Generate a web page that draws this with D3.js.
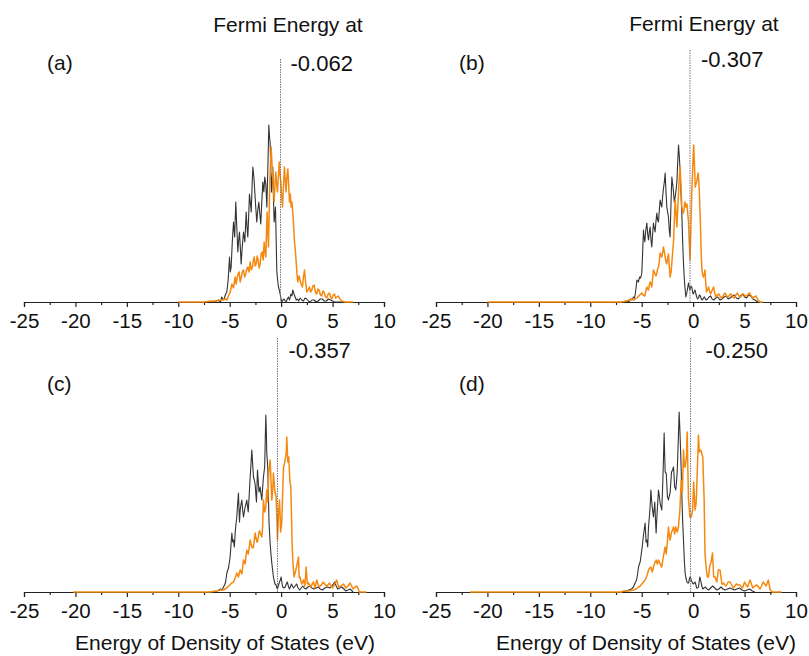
<!DOCTYPE html>
<html>
<head>
<meta charset="utf-8">
<script src="https://cdn.jsdelivr.net/npm/d3@7/dist/d3.min.js"></script>
<style>
  html, body { margin: 0; padding: 0; background: #fff; }
  svg text { font-family: "Liberation Sans", Arial, Helvetica, sans-serif; fill: #111; }
</style>
</head>
<body>
<svg id="chart" width="809" height="656"></svg>
<script>
// Energy axis ticks (eV)
const majorTicks = [-25, -20, -15, -10, -5, 0, 5, 10];
const minorTicks = [-22.5, -17.5, -12.5, -7.5, -2.5, 2.5, 7.5];

// Fermi energy of each structure (eV)
const fermiLevels = [-0.062, -0.307, -0.357, -0.250];
const panelTags = ["(a)", "(b)", "(c)", "(d)"];

// Density of states, [energy (eV), DOS (arb. units)]
const dosA_black = [[-7,0],[-6.57,0],[-6.3,1],[-6.09,2],[-5.9,0],[-5.77,5],[-5.65,2],[-5.54,3],[-5.4,8],[-5.28,10],[-5.15,22],[-5.02,45],[-4.94,30],[-4.86,35],[-4.75,60],[-4.63,80],[-4.52,65],[-4.41,100],[-4.31,75],[-4.21,50],[-4.13,62],[-4.05,70],[-3.97,55],[-3.89,38],[-3.78,55],[-3.66,70],[-3.53,60],[-3.40,90],[-3.32,75],[-3.24,65],[-3.16,85],[-3.08,108],[-3.0,100],[-2.91,90],[-2.83,115],[-2.75,135],[-2.65,125],[-2.56,110],[-2.47,95],[-2.37,80],[-2.27,92],[-2.17,100],[-2.07,88],[-1.98,78],[-1.88,100],[-1.78,120],[-1.68,110],[-1.59,125],[-1.49,118],[-1.39,95],[-1.30,130],[-1.20,177],[-1.13,165],[-1.07,159],[-1.0,130],[-0.94,110],[-0.87,125],[-0.81,135],[-0.74,100],[-0.68,80],[-0.6,90],[-0.55,95],[-0.48,60],[-0.42,30],[-0.34,22],[-0.26,15],[-0.18,12],[-0.10,8],[0.06,0],[0.18,2],[0.29,3],[0.4,1],[0.48,0],[0.6,3],[0.71,5],[0.82,2],[0.94,8],[1.05,6],[1.13,12],[1.25,8],[1.36,5],[1.47,2],[1.58,3],[1.7,1],[1.84,4],[2.0,2],[2.17,1],[2.33,4],[2.49,3],[2.65,1],[2.82,0],[3.0,2],[3.2,2],[3.4,0],[3.6,1],[3.8,3],[4.0,3],[4.2,1],[4.4,1],[4.6,3],[4.8,2],[5.0,1],[5.2,0],[6,0]];
const dosA_orange = [[-10,0],[-7.55,0],[-6.8,1],[-6.25,1],[-5.8,2],[-5.44,3],[-5.28,2],[-5.12,6],[-4.95,10],[-4.79,18],[-4.63,14],[-4.55,20],[-4.47,25],[-4.39,18],[-4.31,22],[-4.2,28],[-4.08,30],[-3.99,20],[-3.89,24],[-3.78,30],[-3.66,32],[-3.55,25],[-3.44,28],[-3.34,33],[-3.24,35],[-3.12,30],[-3.01,40],[-2.9,32],[-2.78,35],[-2.7,42],[-2.62,45],[-2.52,36],[-2.43,38],[-2.33,46],[-2.24,42],[-2.14,34],[-2.04,38],[-1.95,48],[-1.85,50],[-1.75,42],[-1.65,60],[-1.57,50],[-1.49,45],[-1.42,70],[-1.36,90],[-1.29,70],[-1.23,55],[-1.16,90],[-1.10,120],[-1.03,140],[-0.97,155],[-0.90,140],[-0.84,128],[-0.76,115],[-0.68,100],[-0.60,118],[-0.52,130],[-0.44,118],[-0.36,110],[-0.27,125],[-0.19,140],[-0.11,128],[-0.03,120],[0.05,105],[0.13,95],[0.22,115],[0.32,135],[0.40,122],[0.48,110],[0.56,125],[0.65,133],[0.73,118],[0.81,100],[0.89,108],[0.97,95],[1.05,100],[1.13,90],[1.22,75],[1.30,60],[1.38,52],[1.46,40],[1.54,28],[1.62,20],[1.73,26],[1.84,22],[1.95,18],[2.07,15],[2.17,25],[2.27,32],[2.38,20],[2.49,10],[2.62,12],[2.75,15],[2.86,10],[2.98,12],[3.09,16],[3.20,17],[3.33,10],[3.46,8],[3.57,13],[3.69,12],[3.82,7],[3.95,6],[4.06,11],[4.18,10],[4.31,5],[4.44,4],[4.57,8],[4.70,9],[4.81,5],[4.92,3],[5.05,7],[5.18,8],[5.30,4],[5.41,5],[5.54,6],[5.67,4],[5.78,2],[5.90,1],[6.22,0],[7,0]];

const dosB_black = [[-7,0],[-6.45,1],[-6.25,0],[-6.1,3],[-5.95,2],[-5.8,5],[-5.7,4],[-5.6,10],[-5.53,16],[-5.47,22],[-5.33,20],[-5.2,25],[-5.1,24],[-4.99,29],[-4.91,50],[-4.83,72],[-4.77,65],[-4.7,60],[-4.6,72],[-4.5,79],[-4.42,68],[-4.34,62],[-4.26,70],[-4.18,75],[-4.1,62],[-4.02,55],[-3.94,68],[-3.86,79],[-3.78,74],[-3.7,70],[-3.62,80],[-3.53,89],[-3.45,82],[-3.37,80],[-3.29,92],[-3.21,102],[-3.13,98],[-3.05,95],[-2.96,106],[-2.88,114],[-2.80,120],[-2.72,129],[-2.64,110],[-2.56,95],[-2.48,90],[-2.40,85],[-2.32,72],[-2.24,65],[-2.15,100],[-2.07,125],[-1.99,118],[-1.91,110],[-1.83,100],[-1.75,105],[-1.66,112],[-1.58,120],[-1.50,140],[-1.42,157],[-1.34,145],[-1.26,130],[-1.18,108],[-1.10,88],[-1.02,60],[-0.94,39],[-0.87,25],[-0.8,15],[-0.71,5],[-0.6,10],[-0.52,15],[-0.45,19],[-0.37,14],[-0.3,12],[-0.21,16],[-0.13,15],[-0.05,10],[0.0,8],[0.1,10],[0.19,12],[0.27,8],[0.35,5],[0.43,3],[0.52,4],[0.6,7],[0.7,6],[0.8,3],[0.9,2],[1.0,4],[1.1,5],[1.25,2],[1.4,3],[1.55,5],[1.7,6],[1.85,3],[2.0,2],[2.2,4],[2.4,5],[2.6,2],[2.8,3],[3.0,5],[3.2,6],[3.4,3],[3.6,4],[3.8,6],[4.0,7],[4.2,4],[4.4,3],[4.6,6],[4.8,8],[5.0,5],[5.2,4],[5.4,7],[5.6,6],[5.8,3],[6.0,2],[6.3,0]];
const dosB_orange = [[-20,0],[-7,0],[-6.45,1],[-6.2,2],[-6.0,3],[-5.75,2],[-5.47,4],[-5.2,7],[-4.99,9],[-4.85,7],[-4.7,6],[-4.6,11],[-4.50,15],[-4.42,13],[-4.34,12],[-4.26,17],[-4.18,20],[-4.1,18],[-4.02,15],[-3.94,24],[-3.86,32],[-3.78,30],[-3.7,28],[-3.62,26],[-3.53,29],[-3.45,33],[-3.37,35],[-3.29,40],[-3.21,49],[-3.13,47],[-3.05,45],[-2.96,50],[-2.88,55],[-2.80,50],[-2.72,45],[-2.64,40],[-2.56,38],[-2.48,44],[-2.40,48],[-2.32,36],[-2.24,25],[-2.15,30],[-2.07,39],[-1.99,50],[-1.91,60],[-1.83,80],[-1.75,102],[-1.66,90],[-1.58,75],[-1.50,92],[-1.42,110],[-1.34,125],[-1.26,135],[-1.18,115],[-1.10,95],[-1.02,90],[-0.94,89],[-0.87,94],[-0.8,100],[-0.71,95],[-0.65,96],[-0.6,98],[-0.52,88],[-0.45,80],[-0.38,60],[-0.3,42],[-0.22,75],[-0.13,110],[-0.04,135],[0.05,157],[0.12,140],[0.2,115],[0.27,118],[0.35,120],[0.42,125],[0.5,129],[0.55,120],[0.6,110],[0.66,92],[0.72,75],[0.78,50],[0.85,32],[0.92,28],[1.0,25],[1.08,28],[1.15,32],[1.22,20],[1.3,10],[1.4,12],[1.5,15],[1.6,11],[1.7,8],[1.85,12],[1.98,15],[2.1,9],[2.2,5],[2.35,7],[2.5,8],[2.65,5],[2.8,4],[2.95,7],[3.1,9],[3.25,6],[3.4,5],[3.55,7],[3.7,8],[3.85,5],[4.0,4],[4.15,7],[4.3,9],[4.45,6],[4.6,5],[4.75,7],[4.9,8],[5.05,6],[5.2,6],[5.35,8],[5.5,9],[5.65,6],[5.8,4],[5.95,5],[6.1,6],[6.3,2],[6.5,0],[6.8,0]];

const dosC_black = [[-7,0],[-6.25,1],[-6.05,2],[-5.9,3],[-5.75,2],[-5.6,5],[-5.5,7],[-5.4,10],[-5.28,19],[-5.18,22],[-5.1,25],[-5.03,30],[-4.96,35],[-4.87,48],[-4.79,59],[-4.71,50],[-4.63,52],[-4.55,45],[-4.47,59],[-4.39,68],[-4.31,75],[-4.23,88],[-4.15,99],[-4.05,70],[-3.98,82],[-3.9,88],[-3.82,92],[-3.74,82],[-3.66,75],[-3.58,80],[-3.5,85],[-3.42,88],[-3.34,92],[-3.27,86],[-3.2,80],[-3.1,98],[-3.01,115],[-2.93,128],[-2.85,142],[-2.77,128],[-2.69,115],[-2.61,112],[-2.53,108],[-2.46,98],[-2.40,90],[-2.35,105],[-2.30,122],[-2.22,110],[-2.15,100],[-2.09,102],[-2.04,105],[-1.96,98],[-1.88,92],[-1.80,104],[-1.72,115],[-1.66,120],[-1.6,125],[-1.55,150],[-1.49,177],[-1.44,160],[-1.40,140],[-1.35,132],[-1.30,125],[-1.24,98],[-1.18,70],[-1.12,58],[-1.07,49],[-0.99,38],[-0.91,29],[-0.83,22],[-0.75,15],[-0.67,11],[-0.6,8],[-0.49,7],[-0.42,4],[-0.36,3],[-0.25,7],[-0.16,10],[-0.08,12],[0.0,15],[0.08,9],[0.15,5],[0.27,4],[0.39,5],[0.5,8],[0.6,10],[0.7,6],[0.8,3],[0.9,5],[1.0,8],[1.1,6],[1.2,4],[1.35,6],[1.5,8],[1.65,4],[1.8,2],[1.95,4],[2.1,6],[2.25,4],[2.4,3],[2.6,5],[2.8,6],[3.0,4],[3.2,3],[3.4,4],[3.6,5],[3.8,3],[4.0,2],[4.25,4],[4.5,5],[4.75,4],[5.0,7],[5.1,8],[5.2,10],[5.35,6],[5.5,3],[5.7,4],[5.9,5],[6.1,3],[6.3,1],[6.5,2],[6.7,3],[7.0,0]];
const dosC_orange = [[-20.2,0],[-7,0],[-6.25,1],[-5.9,2],[-5.6,2],[-5.3,4],[-5.0,7],[-4.8,9],[-4.63,10],[-4.47,14],[-4.31,19],[-4.23,17],[-4.15,15],[-4.07,19],[-3.98,22],[-3.9,20],[-3.82,18],[-3.74,25],[-3.66,32],[-3.58,30],[-3.5,28],[-3.42,36],[-3.34,42],[-3.27,40],[-3.2,38],[-3.1,45],[-3.01,52],[-2.93,48],[-2.85,45],[-2.77,44],[-2.69,45],[-2.61,52],[-2.53,59],[-2.46,55],[-2.4,52],[-2.35,50],[-2.30,50],[-2.22,55],[-2.15,60],[-2.09,61],[-2.04,59],[-1.96,57],[-1.88,55],[-1.84,60],[-1.80,65],[-1.76,80],[-1.72,92],[-1.66,86],[-1.6,80],[-1.55,82],[-1.49,85],[-1.44,95],[-1.40,102],[-1.35,96],[-1.30,90],[-1.25,105],[-1.2,120],[-1.13,126],[-1.07,132],[-1.02,120],[-0.98,110],[-0.94,100],[-0.91,92],[-0.85,98],[-0.8,105],[-0.75,119],[-0.68,110],[-0.6,100],[-0.55,98],[-0.49,95],[-0.42,75],[-0.36,52],[-0.3,66],[-0.25,80],[-0.2,86],[-0.16,92],[-0.1,76],[-0.05,60],[0.0,64],[0.05,68],[0.14,95],[0.23,125],[0.31,128],[0.39,132],[0.45,136],[0.5,140],[0.55,155],[0.6,142],[0.65,130],[0.7,132],[0.74,135],[0.8,122],[0.85,110],[0.9,108],[0.94,105],[1.0,80],[1.05,55],[1.09,42],[1.13,32],[1.2,22],[1.25,15],[1.3,17],[1.36,19],[1.43,22],[1.5,25],[1.6,30],[1.68,35],[1.72,25],[1.75,15],[1.8,14],[1.84,15],[1.92,11],[2.0,8],[2.08,10],[2.17,12],[2.24,9],[2.3,6],[2.37,15],[2.43,25],[2.49,16],[2.55,8],[2.6,8],[2.66,9],[2.78,7],[2.9,5],[3.02,8],[3.14,10],[3.22,7],[3.3,4],[3.38,8],[3.46,12],[3.58,8],[3.7,5],[3.9,7],[4.1,10],[4.25,8],[4.4,6],[4.55,7],[4.7,9],[4.85,6],[5.0,4],[5.2,8],[5.4,12],[5.5,8],[5.6,5],[5.8,6],[6.06,8],[6.18,6],[6.3,4],[6.5,6],[6.7,9],[6.85,6],[7.0,3],[7.2,5],[7.35,6],[7.5,3],[7.6,0],[8.3,0]];

const dosD_black = [[-7,0],[-6.5,1],[-6.25,2],[-6.0,3],[-5.9,4],[-5.8,5],[-5.65,9],[-5.5,12],[-5.4,18],[-5.31,25],[-5.23,28],[-5.15,30],[-5.07,36],[-4.99,42],[-4.92,48],[-4.85,55],[-4.76,62],[-4.67,69],[-4.58,50],[-4.50,52],[-4.42,45],[-4.34,65],[-4.28,72],[-4.22,80],[-4.16,90],[-4.11,102],[-4.04,92],[-3.98,85],[-3.92,80],[-3.86,75],[-3.80,82],[-3.73,90],[-3.66,72],[-3.60,59],[-3.55,70],[-3.5,80],[-3.43,92],[-3.37,102],[-3.28,95],[-3.2,88],[-3.12,85],[-3.05,82],[-3.0,96],[-2.95,110],[-2.88,135],[-2.82,159],[-2.77,138],[-2.72,120],[-2.67,119],[-2.62,119],[-2.56,108],[-2.5,95],[-2.45,94],[-2.40,92],[-2.32,96],[-2.24,99],[-2.17,110],[-2.1,120],[-2.0,122],[-1.91,125],[-1.85,115],[-1.8,105],[-1.74,104],[-1.69,102],[-1.62,110],[-1.55,120],[-1.45,150],[-1.36,180],[-1.3,165],[-1.25,150],[-1.21,138],[-1.17,125],[-1.11,102],[-1.05,80],[-1.0,66],[-0.94,52],[-0.89,40],[-0.85,30],[-0.81,24],[-0.78,19],[-0.7,14],[-0.6,10],[-0.52,9],[-0.45,9],[-0.38,12],[-0.3,15],[-0.25,14],[-0.19,12],[-0.1,10],[0.0,8],[0.1,9],[0.19,10],[0.27,7],[0.35,4],[0.44,4],[0.52,5],[0.58,10],[0.65,15],[0.72,12],[0.8,8],[0.87,5],[0.94,3],[1.05,4],[1.2,5],[1.35,3],[1.5,2],[1.7,4],[1.9,6],[2.1,4],[2.3,2],[2.5,3],[2.7,5],[2.9,3],[3.1,2],[3.35,3],[3.6,4],[3.8,3],[4.0,2],[4.25,3],[4.5,4],[4.75,2],[5.0,1],[5.25,2],[5.5,3],[5.75,1],[6.0,0]];
const dosD_orange = [[-21.7,0],[-7,0],[-6.77,1],[-6.3,1],[-5.8,2],[-5.55,3],[-5.3,5],[-5.15,6],[-4.99,8],[-4.83,10],[-4.67,12],[-4.5,16],[-4.34,22],[-4.22,24],[-4.11,25],[-4.04,22],[-3.98,20],[-3.92,22],[-3.86,25],[-3.73,29],[-3.6,32],[-3.48,28],[-3.37,32],[-3.28,30],[-3.2,28],[-3.12,26],[-3.05,25],[-2.98,30],[-2.9,35],[-2.81,40],[-2.72,45],[-2.67,42],[-2.62,38],[-2.56,44],[-2.5,50],[-2.45,58],[-2.40,65],[-2.35,60],[-2.3,55],[-2.27,54],[-2.24,52],[-2.17,56],[-2.1,60],[-2.0,62],[-1.91,65],[-1.85,62],[-1.8,58],[-1.74,62],[-1.69,65],[-1.62,62],[-1.55,60],[-1.49,62],[-1.43,65],[-1.37,72],[-1.3,80],[-1.23,95],[-1.17,112],[-1.11,106],[-1.05,100],[-0.99,120],[-0.94,142],[-0.9,134],[-0.85,125],[-0.81,125],[-0.78,125],[-0.72,130],[-0.65,135],[-0.62,148],[-0.58,160],[-0.52,126],[-0.45,92],[-0.38,84],[-0.32,75],[-0.25,75],[-0.19,75],[-0.12,78],[-0.05,82],[0.0,96],[0.05,110],[0.12,96],[0.19,82],[0.25,86],[0.3,90],[0.35,105],[0.4,120],[0.46,138],[0.52,157],[0.56,148],[0.6,140],[0.68,141],[0.75,142],[0.85,138],[0.94,135],[1.0,114],[1.07,92],[1.11,66],[1.15,40],[1.2,32],[1.26,25],[1.32,20],[1.38,15],[1.44,15],[1.49,15],[1.55,20],[1.6,25],[1.68,28],[1.75,30],[1.82,35],[1.88,39],[1.94,27],[2.0,15],[2.07,15],[2.14,15],[2.22,12],[2.3,10],[2.38,16],[2.45,22],[2.53,22],[2.62,22],[2.7,15],[2.8,8],[2.88,8],[2.95,9],[3.08,7],[3.2,6],[3.3,8],[3.4,10],[3.5,10],[3.6,10],[3.75,7],[3.9,4],[4.05,6],[4.2,8],[4.38,7],[4.57,7],[4.68,5],[4.8,4],[4.9,7],[5.0,10],[5.15,7],[5.3,5],[5.42,9],[5.54,12],[5.67,8],[5.8,4],[6.0,6],[6.19,7],[6.35,5],[6.5,3],[6.65,6],[6.8,10],[6.95,8],[7.1,6],[7.2,9],[7.3,12],[7.4,7],[7.5,2],[7.7,0],[8.6,0]];

const blackSeries = [dosA_black, dosB_black, dosC_black, dosD_black];
const orangeSeries = [dosA_orange, dosB_orange, dosC_orange, dosD_orange];

const svg = d3.select("#chart");

// Panel frames: pixel extent of the energy axis and baseline height
const frames = [
  { x0: 24,  x1: 384, y0: 302, fermiTop: 59,  tagY: 70,  valY: 71,  valDx: 10, titleX: 288, titleY: 32 },
  { x0: 436, x1: 796, y0: 302, fermiTop: 50,  tagY: 70,  valY: 67,  valDx: 11, titleX: 704, titleY: 31 },
  { x0: 24,  x1: 384, y0: 592, fermiTop: 338, tagY: 391, valY: 358, valDx: 11, titleX: 225, titleY: 650 },
  { x0: 436, x1: 796, y0: 592, fermiTop: 338, tagY: 391, valY: 358, valDx: 15, titleX: 646, titleY: 650 }
];

frames.forEach((f, i) => {
  const x = d3.scaleLinear().domain([-25, 10]).range([f.x0, f.x1]);
  const y = d3.scaleLinear().domain([0, 180]).range([f.y0, f.y0 - 180]);
  const g = svg.append("g");

  // Energy axis with major and minor ticks
  const axis = d3.axisBottom(x).tickValues(majorTicks).tickSize(5).tickPadding(6);
  const ax = g.append("g").attr("transform", `translate(0,${f.y0})`).call(axis);
  ax.select(".domain").attr("stroke", "#222").attr("stroke-width", 1.2);
  ax.selectAll(".tick line").attr("stroke", "#222").attr("stroke-width", 1.2);
  ax.selectAll(".tick text").attr("font-size", 20.5).attr("fill", "#111")
    .attr("font-family", "Liberation Sans, Arial, sans-serif").text(d => d < 0 ? "-" + Math.abs(d) : d);
  const minor = d3.axisBottom(x).tickValues(minorTicks).tickSize(3).tickFormat("");
  const mx = g.append("g").attr("transform", `translate(0,${f.y0})`).call(minor);
  mx.select(".domain").remove();
  mx.selectAll(".tick line").attr("stroke", "#222").attr("stroke-width", 1.2);

  const line = d3.line().x(d => x(d[0])).y(d => y(d[1]));

  g.append("path").datum(blackSeries[i]).attr("d", line)
    .attr("fill", "none").attr("stroke", "#333").attr("stroke-width", 1.1).attr("stroke-linejoin", "round");
  g.append("path").datum(orangeSeries[i]).attr("d", line)
    .attr("fill", "none").attr("stroke", "#f5890f").attr("stroke-width", 1.5).attr("stroke-linejoin", "round");

  // Fermi level marker
  const fx = x(fermiLevels[i]);
  g.append("line").attr("x1", fx).attr("x2", fx).attr("y1", f.fermiTop).attr("y2", f.y0)
    .attr("stroke", "#777").attr("stroke-width", 1).attr("stroke-dasharray", "1.5,1");
  g.append("text").attr("x", fx + f.valDx).attr("y", f.valY).attr("font-size", 22)
    .text(fermiLevels[i].toFixed(3));

  g.append("text").attr("x", f.x0 + 23).attr("y", f.tagY).attr("font-size", 21).text(panelTags[i]);

  g.append("text").attr("x", f.titleX).attr("y", f.titleY).attr("text-anchor", "middle")
    .attr("font-size", 21).text(i < 2 ? "Fermi Energy at" : "Energy of Density of States (eV)");
});
</script>
</body>
</html>
